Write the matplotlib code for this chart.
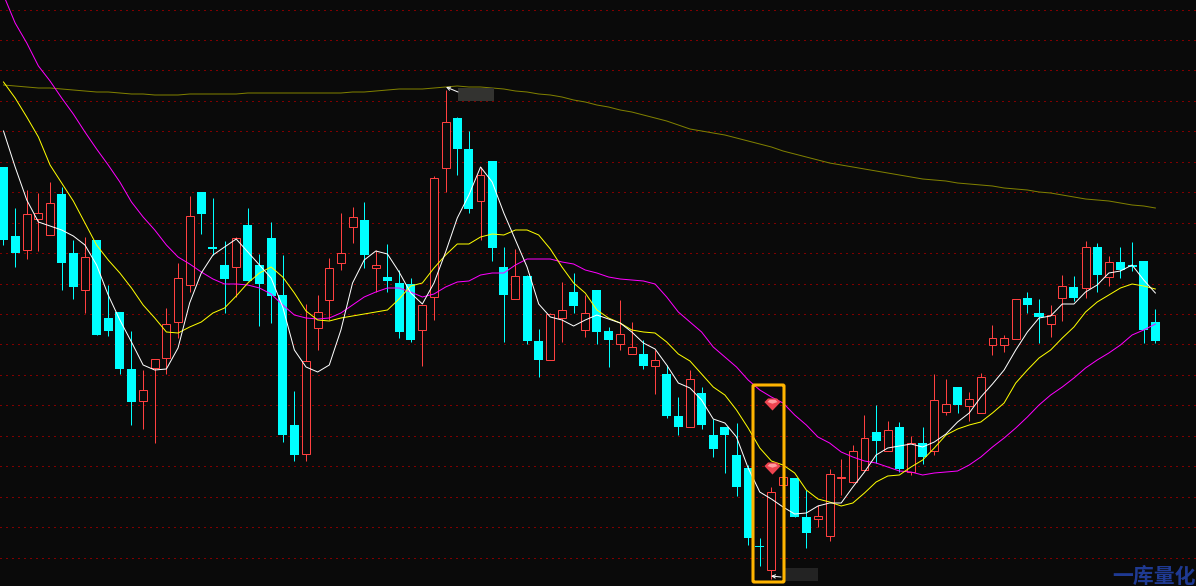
# K线图复刻：均线 + 选股标记
import matplotlib
matplotlib.use('Agg')
import matplotlib.pyplot as plt
import numpy as np
from matplotlib.patches import Rectangle, FancyBboxPatch

plt.rcParams['font.family'] = ['Noto Sans CJK SC', 'DejaVu Sans']

# 读图得到的数值，纵轴单位即画面高度（向下增大）
kind = 'ccrrrccrcc' 'ccrrrrrccc' 'rcccccrrrr' 'rcrcccrrrc' 'crccrccrrc' \
       'rccrrcrccr' 'ccccccrrcc' 'rrrrrcrcrc' 'rrcrrrrrcc' 'rrcrcrcccc'
high = [167, 208, 190, 193, 182, 187, 240, 237, 240, 285,
        312, 331, 370, 359, 308, 263, 196, 192, 198, 241,
        237, 208, 254, 222, 255, 391, 304, 295, 258, 213,
        207, 202, 250, 244, 270, 278, 305, 176, 90, 117,
        131, 167, 161, 247, 249, 275, 329, 313, 282, 273,
        295, 290, 327, 300, 322, 340, 350, 365, 397, 370,
        387, 419, 427, 423, 465, 538, 487, 477, 478, 490,
        505, 469, 459, 445, 415, 405, 421, 422, 436, 427,
        374, 379, 387, 392, 373, 325, 335, 299, 292, 299,
        305, 275, 276, 241, 243, 256, 247, 242, 261, 309]
top = [167, 236, 214, 213, 203, 194, 253, 257, 240, 318,
       312, 369, 390, 359, 324, 278, 216, 192, 247, 265,
       238, 225, 265, 238, 295, 425, 361, 312, 268, 253,
       217, 220, 265, 277, 283, 284, 305, 178, 122, 118,
       149, 175, 161, 267, 276, 276, 341, 314, 310, 292,
       313, 290, 331, 334, 347, 354, 360, 374, 416, 379,
       393, 435, 427, 455, 468, 546, 492, 477, 478, 517,
       516, 474, 477, 451, 438, 432, 430, 427, 443, 443,
       400, 404, 387, 399, 377, 338, 338, 299, 298, 313,
       315, 286, 287, 247, 247, 262, 262, 265, 261, 322]
bottom = [240, 253, 250, 219, 235, 263, 287, 290, 335, 331,
          369, 402, 401, 368, 358, 322, 285, 214, 249, 279,
          267, 281, 284, 296, 435, 455, 454, 328, 300, 263,
          227, 255, 268, 281, 332, 340, 330, 297, 168, 149,
          209, 201, 248, 295, 299, 341, 360, 360, 318, 306,
          330, 332, 340, 344, 354, 366, 366, 416, 427, 427,
          425, 449, 435, 487, 538, 547, 570, 485, 517, 533,
          519, 536, 478, 482, 470, 441, 451, 469, 472, 457,
          451, 412, 405, 406, 413, 345, 345, 339, 305, 317,
          324, 298, 298, 288, 275, 277, 270, 267, 330, 341]
low = [245, 267, 259, 251, 235, 290, 299, 313, 335, 336,
       374, 425, 429, 443, 374, 338, 292, 234, 255, 313,
       297, 281, 326, 323, 442, 461, 461, 350, 320, 270,
       243, 268, 292, 292, 338, 342, 366, 320, 192, 175,
       213, 240, 261, 342, 299, 344, 377, 360, 342, 313,
       337, 344, 367, 350, 354, 369, 394, 418, 435, 427,
       429, 457, 473, 496, 545, 566, 579, 485, 517, 548,
       527, 541, 495, 483, 470, 463, 451, 472, 475, 464,
       455, 415, 413, 421, 413, 355, 352, 339, 313, 343,
       337, 321, 301, 298, 292, 286, 278, 271, 343, 343]

ma_white = [131, 167, 200, 222, 226, 230, 236, 245, 265, 295,
            320, 342, 365, 370, 369, 348, 303, 273, 255, 247,
            239, 252, 265, 278, 307, 350, 367, 372, 365, 330,
            283, 260, 251, 254, 272, 293, 304, 283, 252, 218,
            195, 167, 182, 213, 240, 267, 304, 317, 320, 326,
            320, 315, 319, 323, 332, 343, 349, 365, 383, 388,
            400, 419, 423, 437, 468, 492, 499, 507, 514, 513,
            506, 503, 503, 487, 472, 455, 448, 446, 444, 447,
            442, 434, 422, 413, 397, 384, 370, 350, 332, 318,
            316, 304, 304, 292, 285, 273, 271, 265, 280, 293]
ma_yellow = [82, 98, 117, 137, 165, 183, 201, 223, 245, 260,
             273, 288, 305, 318, 332, 333, 327, 322, 313, 308,
             296, 283, 273, 267, 277, 293, 311, 320, 321, 318,
             316, 314, 312, 310, 299, 286, 283, 268, 255, 244,
             244, 237, 234, 235, 230, 230, 235, 249, 267, 283,
             293, 310, 318, 323, 330, 332, 333, 342, 354, 361,
             374, 387, 395, 410, 428, 448, 461, 465, 473, 490,
             499, 502, 506, 503, 493, 482, 476, 475, 467, 460,
             448, 435, 429, 425, 422, 413, 403, 383, 370, 358,
             350, 338, 327, 312, 302, 295, 288, 284, 286, 289]
ma_magenta = [-5, 23, 43, 66, 81, 98, 114, 132, 149, 165,
              182, 202, 217, 230, 245, 257, 264, 272, 279, 284,
              284, 285, 288, 294, 305, 315, 318, 319, 318, 313,
              305, 297, 292, 288, 288, 292, 297, 294, 287, 282,
              281, 275, 273, 273, 265, 259, 259, 259, 262, 264,
              270, 273, 277, 279, 280, 281, 284, 297, 312, 322,
              332, 347, 357, 367, 380, 390, 397, 403, 415, 425,
              437, 443, 452, 457, 461, 463, 467, 471, 472, 475,
              473, 472, 471, 465, 457, 447, 438, 428, 417, 405,
              395, 387, 378, 368, 360, 353, 345, 335, 330, 324]
ma_olive = [85, 86, 87, 88, 88, 89, 90, 91, 92, 92,
            93, 94, 94, 95, 95, 95, 94, 94, 94, 94,
            94, 93, 93, 93, 93, 93, 93, 93, 93, 93,
            92, 92, 91, 90, 89, 89, 89, 88, 87, 86,
            87, 87, 88, 89, 91, 92, 94, 95, 97, 100,
            102, 105, 107, 110, 112, 115, 118, 121, 125, 129,
            131, 133, 135, 138, 141, 144, 147, 151, 154, 157,
            160, 163, 165, 167, 169, 171, 173, 175, 177, 179,
            180, 181, 183, 184, 185, 186, 188, 189, 190, 192,
            193, 195, 197, 199, 200, 201, 203, 205, 206, 208]

grid_levels = np.arange(9.5, 586, 30.45)
gem_levels = [404, 468]

BG = '#0a0a0a'
CYAN = '#00ffff'
RED = '#ff4040'
STEP = 11.635   # 每根K线的像素宽
X0 = 3.5
PX = 0.72       # 1 像素对应的磅数


def to_idx(px):
    return (px - X0) / STEP


fig = plt.figure(figsize=(11.96, 5.86), dpi=100, facecolor=BG)
ax = fig.add_axes([0, 0, 1, 1], facecolor=BG)
ax.set_xlim(to_idx(0), to_idx(1196))
ax.set_ylim(586, 0)
ax.axis('off')

# 红色点状网格
for y in grid_levels:
    ax.axhline(y, color='#800000', lw=PX, dashes=(1.2, 4.8), zorder=1, antialiased=False)

# K线
idx = np.arange(len(high))
is_red = np.array([k == 'r' for k in kind])
high, top, bottom, low = map(np.array, (high, top, bottom, low))
for mask, col in ((~is_red, CYAN), (is_red, RED)):
    ax.vlines(idx[mask], high[mask], low[mask], color=col, lw=PX, zorder=2)
h = np.maximum(bottom - top, 1)
ax.bar(idx[~is_red], h[~is_red], bottom=top[~is_red], width=0.78, color=CYAN,
       lw=0, zorder=3, antialiased=False)
ax.bar(idx[is_red], h[is_red], bottom=top[is_red], width=0.68, facecolor=BG,
       edgecolor=RED, lw=PX, zorder=3)

# 均线
ax.plot(idx, ma_olive, color='#808000', lw=PX, zorder=4)
ax.plot(idx, ma_magenta, color='#ff00ff', lw=PX, zorder=5)
ax.plot(idx, ma_yellow, color='#ffff00', lw=PX, zorder=6)
ax.plot(idx, ma_white, color='#ffffff', lw=PX, zorder=7)

# 高低点标注（被打码的灰块和小箭头）
ax.add_patch(Rectangle((to_idx(458), 87.5), 36 / STEP, 13, facecolor='#333330',
                       edgecolor='none', zorder=8))
ax.add_patch(Rectangle((to_idx(783), 568), 35 / STEP, 13, facecolor='#232323',
                       edgecolor='none', zorder=8))
ax.annotate('', xy=(to_idx(446), 87), xytext=(to_idx(458), 92),
            arrowprops=dict(arrowstyle='->', color='white', lw=PX,
                            mutation_scale=6, shrinkA=0, shrinkB=0), zorder=9)
ax.annotate('', xy=(to_idx(771), 576), xytext=(to_idx(781), 577),
            arrowprops=dict(arrowstyle='->', color='white', lw=PX,
                            mutation_scale=6, shrinkA=0, shrinkB=0), zorder=9)

# 宝石图标
gem_x = [to_idx(772)] * len(gem_levels)
outer = [(-1, 0.3), (-0.55, 0.75), (0.55, 0.75), (1, 0.3), (0, -0.75)]
inner = [(-0.62, 0.3), (-0.35, 0.58), (0.35, 0.58), (0.62, 0.3), (0, 0.1)]
ax.scatter(gem_x, gem_levels, marker=outer, s=135, color='#ee4450', lw=0, zorder=10)
ax.scatter(gem_x, gem_levels, marker=inner, s=52, color='#ff9da0', lw=0, zorder=11)

# 橙色框
ax.add_patch(FancyBboxPatch((to_idx(753), 385), 31 / STEP, 197,
                            boxstyle='round,pad=0,rounding_size=0.1',
                            mutation_aspect=STEP, facecolor='none',
                            edgecolor='#ffb400', lw=2.2, zorder=12))

# 水印
ax.text(to_idx(1196), 576, '一库量化', color='#1f3a93', fontsize=15,
        fontweight='bold', ha='right', va='center', zorder=13)

fig.savefig('out.png', dpi=100, facecolor=BG)
